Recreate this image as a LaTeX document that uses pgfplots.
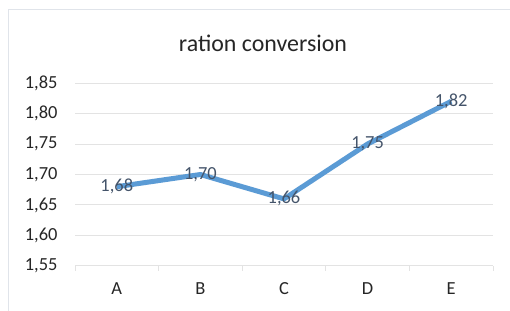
\documentclass[border=0pt]{standalone}
\usepackage{fontspec}
\setmainfont{Carlito}
\usepackage{pgfplots}
\pgfplotsset{compat=1.18}
\definecolor{linec}{HTML}{5B9BD5}
\definecolor{gridc}{HTML}{E3E3E3}
\definecolor{framec}{HTML}{E0E4EA}
\definecolor{labc}{HTML}{44546A}
\definecolor{tickc}{HTML}{262626}
\begin{document}
\begin{tikzpicture}
\useasboundingbox (0,0) rectangle (510bp,311bp);
\fill[white] (0,0) rectangle (510bp,311bp);
\draw[framec, line width=1bp] (8bp,0) -- (8bp,301bp) -- (510bp,301bp);
\node[font=\fontsize{24}{27}\selectfont, text=tickc] at (263bp,268bp) {ration conversion};
\begin{axis}[
  at={(75bp,45bp)}, anchor=south west,
  scale only axis, width=418bp, height=183bp,
  xmin=-0.5, xmax=4.5, ymin=1.55, ymax=1.85,
  xtick={0,1,2,3,4}, xticklabels={A,B,C,D,E},
  minor xtick={-0.5,0.5,1.5,2.5,3.5,4.5},
  ytick={1.55,1.60,1.65,1.70,1.75,1.80,1.85},
  axis lines*=left,
  y axis line style={draw=none},
  x axis line style={draw=gridc, line width=1bp},
  ymajorgrids, grid style={draw=gridc, line width=1bp},
  major tick length=0pt, minor tick length=5bp,
  xtick align=outside,
  minor x tick style={draw=gridc, line width=1bp},
  ytick style={draw=none},
  tick label style={font=\fontsize{18.5}{20}\selectfont, text=tickc},
  yticklabel style={xshift=-14bp},
  xticklabel style={yshift=-13bp},
  /pgf/number format/assume math mode=true,
  /pgf/number format/use comma, /pgf/number format/fixed,
  /pgf/number format/fixed zerofill, /pgf/number format/precision=2,
  yticklabel={\pgfmathprintnumber{\tick}},
  nodes near coords,
  nodes near coords style={font=\fontsize{18.5}{20}\selectfont, text=labc, anchor=center,
    /pgf/number format/use comma, /pgf/number format/fixed,
    /pgf/number format/fixed zerofill, /pgf/number format/precision=2,
    /pgf/number format/assume math mode=true},
  clip=false,
]
\addplot[linec, line width=5bp, line join=round, mark=none] coordinates {
  (0,1.68) (1,1.70) (2,1.66) (3,1.75) (4,1.82)
};
\end{axis}
\end{tikzpicture}
\end{document}
